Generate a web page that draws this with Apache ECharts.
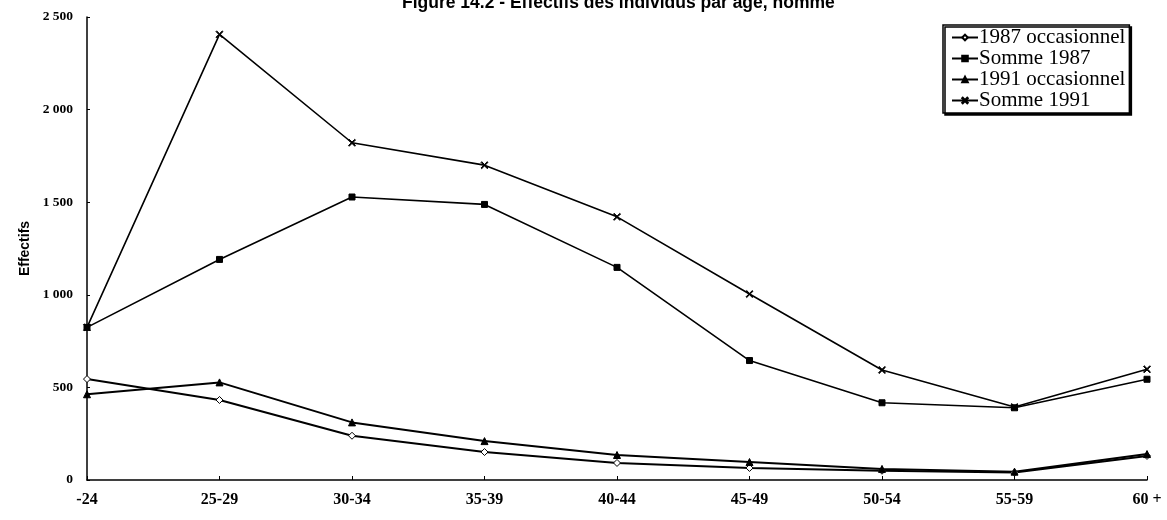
<!DOCTYPE html>
<html>
<head>
<meta charset="utf-8">
<script src="https://cdn.jsdelivr.net/npm/echarts@6/dist/echarts.min.js"></script>
<style>
  html, body { margin: 0; padding: 0; background: #fff; }
  #chart { width: 1167px; height: 520px; }
</style>
</head>
<body>
<div id="chart"></div>
<script>
// Age groups on the horizontal axis
const ageGroups = ['-24', '25-29', '30-34', '35-39', '40-44', '45-49', '50-54', '55-59', '60 +'];

// Headcounts per age group
const occasionnel1987 = [545, 432, 239, 151, 92, 65, 50, 40, 130];
const somme1987 = [824, 1191, 1528, 1488, 1148, 645, 417, 390, 544];
const occasionnel1991 = [463, 527, 311, 210, 135, 97, 60, 45, 140];
const somme1991 = [824, 2406, 1821, 1700, 1421, 1004, 594, 394, 598];

const yTicks = [0, 500, 1000, 1500, 2000, 2500];

const crossSymbol = 'path://M0,1L1,0L5,4L9,0L10,1L6,5L10,9L9,10L5,6L1,10L0,9L4,5Z';

function fmtThousands(v) {
  return String(v).replace(/\B(?=(\d{3})+(?!\d))/g, ' ');
}

function lineSeries(name, data, symbol, size, fill, width) {
  return {
    name: name,
    type: 'line',
    data: data,
    symbol: symbol,
    symbolSize: size,
    showSymbol: true,
    lineStyle: { color: '#000', width: width },
    itemStyle: { color: fill, borderColor: '#000', borderWidth: 1 },
    emphasis: { disabled: true },
    animation: false
  };
}

const chart = echarts.init(document.getElementById('chart'), null, { renderer: 'canvas' });

chart.setOption({
  backgroundColor: '#fff',
  animation: false,
  title: {
    text: 'Figure 14.2 - Effectifs des individus par âge, homme',
    left: 402,
    top: -6,
    padding: 0,
    textStyle: {
      fontFamily: 'Liberation Sans, Arial, sans-serif',
      fontWeight: 'bold',
      fontSize: 17.5,
      color: '#000'
    }
  },
  legend: {
    orient: 'vertical',
    left: 943,
    top: 25,
    padding: [2, 4, 2, 8],
    itemGap: 0,
    itemWidth: 26,
    itemHeight: 7,
    backgroundColor: '#fff',
    borderColor: '#000',
    borderWidth: 1.5,
    borderRadius: 0,
    shadowColor: '#000',
    shadowOffsetX: 2,
    shadowOffsetY: 2,
    shadowBlur: 0,
    textStyle: {
      fontFamily: 'Liberation Serif, Times New Roman, serif',
      fontSize: 21,
      lineHeight: 21,
      color: '#000',
      padding: [0, 0, 0, -4]
    },
    data: ['1987 occasionnel', 'Somme 1987', '1991 occasionnel', 'Somme 1991']
  },
  grid: {
    left: 87,
    right: 20,
    top: 17,
    bottom: 40,
    containLabel: false,
    outerBoundsMode: 'none'
  },
  xAxis: {
    type: 'category',
    data: ageGroups,
    boundaryGap: false,
    axisLine: { lineStyle: { color: '#000', width: 1.5 } },
    axisTick: { inside: true, length: 4, lineStyle: { color: '#000' } },
    axisLabel: {
      margin: 12,
      fontFamily: 'Liberation Serif, Times New Roman, serif',
      fontWeight: 'bold',
      fontSize: 16,
      color: '#000'
    },
    splitLine: { show: false }
  },
  yAxis: {
    type: 'value',
    min: yTicks[0],
    max: yTicks[yTicks.length - 1],
    interval: 500,
    name: 'Effectifs',
    nameLocation: 'middle',
    nameGap: 52,
    nameRotate: 90,
    nameTextStyle: {
      fontFamily: 'Liberation Sans, Arial, sans-serif',
      fontWeight: 'bold',
      fontSize: 14,
      color: '#000'
    },
    axisLine: { show: true, lineStyle: { color: '#000', width: 1.5 } },
    axisTick: { show: true, inside: true, length: 3, lineStyle: { color: '#000' } },
    axisLabel: {
      margin: 14,
      fontFamily: 'Liberation Serif, Times New Roman, serif',
      fontWeight: 'bold',
      fontSize: 13.5,
      color: '#000',
      formatter: fmtThousands
    },
    splitLine: { show: false }
  },
  series: [
    lineSeries('1987 occasionnel', occasionnel1987, 'diamond', 7, '#fff', 2),
    lineSeries('Somme 1987', somme1987, 'rect', 6, '#000', 1.6),
    lineSeries('1991 occasionnel', occasionnel1991, 'triangle', 7, '#000', 2),
    lineSeries('Somme 1991', somme1991, crossSymbol, 7, '#000', 1.6)
  ]
});
</script>
</body>
</html>
